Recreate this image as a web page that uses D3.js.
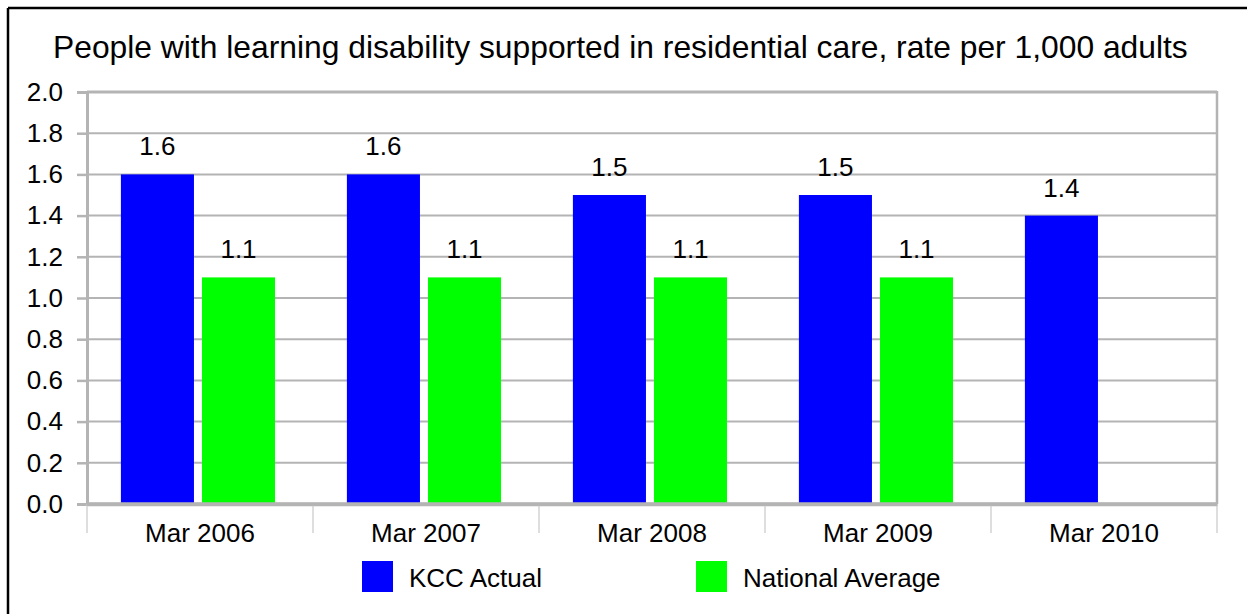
<!DOCTYPE html>
<html>
<head>
<meta charset="utf-8">
<script src="https://cdn.jsdelivr.net/npm/d3@7/dist/d3.min.js"></script>
<style>
  html, body { margin: 0; padding: 0; background: #fff; }
  svg { display: block; font-family: "Liberation Sans", Arial, sans-serif; }
</style>
</head>
<body>
<svg id="chart" width="1247" height="614"></svg>
<script>
const title = "People with learning disability supported in residential care, rate per 1,000 adults";
const categories = ["Mar 2006", "Mar 2007", "Mar 2008", "Mar 2009", "Mar 2010"];
const seriesNames = ["KCC Actual", "National Average"];
const kccActual = [1.6, 1.6, 1.5, 1.5, 1.4];
const nationalAverage = [1.1, 1.1, 1.1, 1.1, null];
const yTicks = [0.0, 0.2, 0.4, 0.6, 0.8, 1.0, 1.2, 1.4, 1.6, 1.8, 2.0];
const colors = ["#0000ff", "#00ff00"];

const svg = d3.select("#chart");
const W = 1247, H = 614;
const plot = { left: 87, right: 1217, top: 92, bottom: 504 };
const FS = 26;

// outer border (top and left visible)
svg.append("line").attr("x1", 8).attr("x2", W).attr("y1", 8).attr("y2", 8)
  .attr("stroke", "#000").attr("stroke-width", 2.5);
svg.append("line").attr("x1", 8).attr("x2", 8).attr("y1", 8).attr("y2", H)
  .attr("stroke", "#000").attr("stroke-width", 2.5);

// title
svg.append("text").attr("x", 53).attr("y", 58).attr("text-anchor", "start")
  .attr("font-size", 31.8).attr("fill", "#000").text(title);

const x = d3.scaleBand().domain(categories).range([plot.left, plot.right]).padding(0);
const bw = x.bandwidth();
const xs = d3.scaleBand().domain(seriesNames).range([bw * 0.15, bw * 0.832]).paddingInner(0.0988).paddingOuter(0);
const y = d3.scaleLinear().domain([0, 2]).range([plot.bottom, plot.top]);

const grid = "#b4b4b4";
// gridlines
svg.append("g").selectAll("line").data(yTicks.slice(1)).join("line")
  .attr("x1", plot.left).attr("x2", plot.right)
  .attr("y1", d => y(d)).attr("y2", d => y(d))
  .attr("stroke", grid).attr("stroke-width", d => d === 2 ? 3 : 2);

// right border of plot
svg.append("line").attr("x1", plot.right).attr("x2", plot.right)
  .attr("y1", plot.top - 1).attr("y2", plot.bottom)
  .attr("stroke", grid).attr("stroke-width", 2.5);

// y axis
const yAxis = d3.axisLeft(y).tickValues(yTicks).tickFormat(d3.format(".1f")).tickSize(10).tickPadding(14);
const yg = svg.append("g").attr("transform", `translate(${plot.left},0)`).call(yAxis);
yg.select(".domain").attr("stroke", grid).attr("stroke-width", 3);
yg.selectAll(".tick line").attr("stroke", grid).attr("stroke-width", 2.5);
yg.selectAll(".tick text").attr("font-size", FS).attr("fill", "#000")
  .attr("font-family", "Liberation Sans, Arial, sans-serif");

// x axis
const xAxis = d3.axisBottom(x).tickSize(0).tickPadding(20);
const xg = svg.append("g").attr("transform", `translate(0,${plot.bottom})`).call(xAxis);
xg.select(".domain").attr("stroke", grid).attr("stroke-width", 3.5);
xg.selectAll(".tick text").attr("font-size", FS).attr("fill", "#000")
  .attr("font-family", "Liberation Sans, Arial, sans-serif");
// category separator ticks
const seps = categories.map(c => x(c)).concat([plot.right]);
svg.append("g").selectAll("line").data(seps).join("line")
  .attr("x1", d => d).attr("x2", d => d)
  .attr("y1", plot.bottom).attr("y2", 533)
  .attr("stroke", "#c8c8c8").attr("stroke-width", 1.2);

// bars
const seriesData = [kccActual, nationalAverage];
seriesNames.forEach((s, si) => {
  const vals = seriesData[si];
  const rows = categories.map((c, i) => ({ c, v: vals[i] })).filter(d => d.v != null);
  const g = svg.append("g");
  g.selectAll("rect").data(rows).join("rect")
    .attr("x", d => x(d.c) + xs(s))
    .attr("y", d => y(d.v))
    .attr("width", xs.bandwidth())
    .attr("height", d => y(0) - y(d.v))
    .attr("fill", colors[si]);
  g.selectAll("text").data(rows).join("text")
    .attr("x", d => x(d.c) + xs(s) + xs.bandwidth() / 2)
    .attr("y", d => y(d.v) - 19)
    .attr("text-anchor", "middle")
    .attr("font-size", FS).attr("fill", "#000")
    .text(d => d3.format(".1f")(d.v));
});
// redraw baseline over bars
svg.append("line").attr("x1", plot.left).attr("x2", plot.right)
  .attr("y1", plot.bottom).attr("y2", plot.bottom)
  .attr("stroke", grid).attr("stroke-width", 3.5);

// legend
const legendX = [362, 696];
const lg = svg.append("g");
seriesNames.forEach((s, i) => {
  lg.append("rect").attr("x", legendX[i]).attr("y", 561).attr("width", 31).attr("height", 31)
    .attr("fill", colors[i]);
  lg.append("text").attr("x", legendX[i] + 47).attr("y", 587)
    .attr("font-size", FS).attr("fill", "#000").text(s);
});
</script>
</body>
</html>
